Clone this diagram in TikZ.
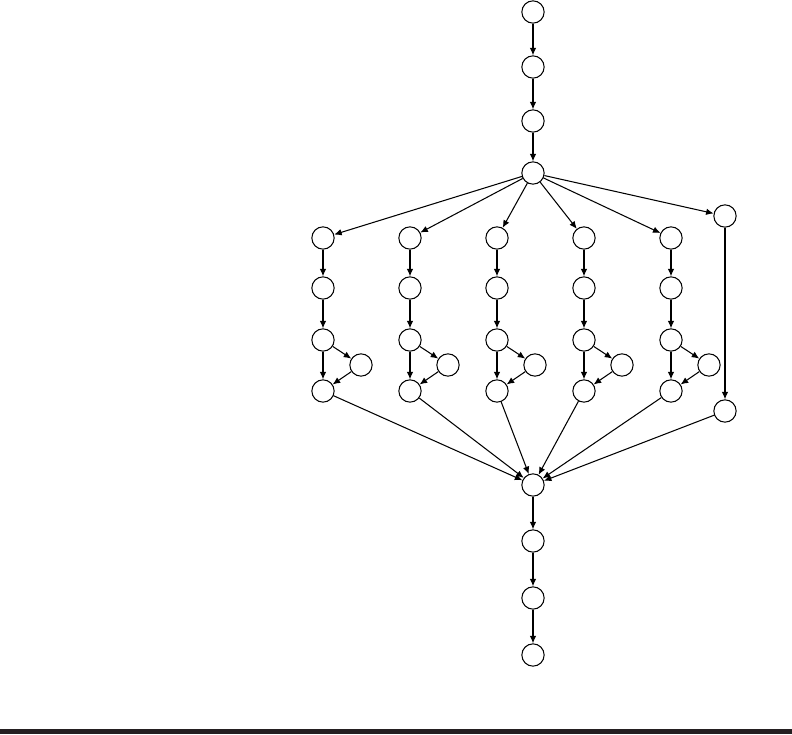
\documentclass[tikz,border=0pt]{standalone}
\usepackage{tikz}
\usetikzlibrary{arrows.meta}

\begin{document}
\begin{tikzpicture}[>={Latex[length=7.5pt,width=6.5pt]}, x=1pt, y=-1pt, line width=1.05pt]
			\definecolor{barg}{rgb}{0.14,0.12,0.13}
			\tikzset{vx/.style={draw, circle, minimum size=22.3pt, inner sep=0pt}}
				\useasboundingbox (0,0) rectangle (792,734);
				
				% top chain
				\node[vx] (s1) at (533,12) {};
				\node[vx] (s2) at (533,67) {};
				\node[vx] (s3) at (533,121) {};
				\node[vx] (h) at (533,173) {};
				\draw[->] (s1)--(s2);
				\draw[->] (s2)--(s3);
				\draw[->] (s3)--(h);
				
				% merge and bottom chain
				\node[vx] (m) at (533,485) {};
				\node[vx] (b1) at (533,541) {};
				\node[vx] (b2) at (533,598) {};
				\node[vx] (b3) at (533,655) {};
				\draw[->] (m)--(b1);
				\draw[->] (b1)--(b2);
				\draw[->] (b2)--(b3);
				
				\foreach \x [count=\i] in {323,410,497,584,671}{
						\node[vx] (p\i) at (\x,238) {};
						\node[vx] (q\i) at (\x,288) {};
						\node[vx] (u\i) at (\x,340) {};
						\node[vx] (w\i) at (\x,391) {};
						\node[vx] (e\i) at (\x+38,365) {};
						\draw[->] (h)--(p\i);
						\draw[->] (p\i)--(q\i);
						\draw[->] (q\i)--(u\i);
						\draw[->] (u\i)--(w\i);
						\draw[->] (u\i)--(e\i);
						\draw[->] (e\i)--(w\i);
						\draw[->] (w\i)--(m);
					}
				
				% right column
				\node[vx] (r1) at (725,216) {};
				\node[vx] (r2) at (725,411) {};
				\draw[->] (h)--(r1);
				\draw[->] (r1)--(r2);
				\draw[->] (r2)--(m);
				
				\fill[barg] (0,729) rectangle (792,734);
		\end{tikzpicture}
\end{document}
